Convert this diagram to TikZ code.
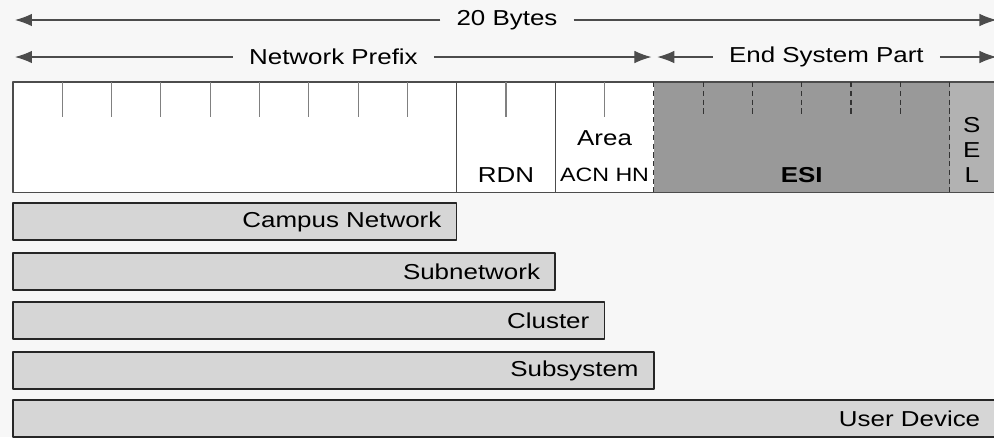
\documentclass[tikz,border=0pt]{standalone}
\usepackage{fontspec}
\setmainfont[FakeStretch=1.2]{Liberation Sans}
\usetikzlibrary{arrows.meta}
\definecolor{paper}{gray}{0.97}
\definecolor{esigray}{gray}{0.6}
\definecolor{selgray}{gray}{0.7}
\definecolor{bargray}{gray}{0.84}
\definecolor{rule}{gray}{0.3}
\tikzset{
	span/.style={inner xsep=9pt, inner ysep=1pt},
	field/.style={inner sep=1pt},
	level/.style={draw=black!85, line width=0.9pt, fill=bargray},
	dim/.style={draw=rule, line width=0.6pt}
}
\begin{document}
\begin{tikzpicture}[x=0.986cm, y=-0.02cm, >={Latex[length=3.4mm,width=2.5mm]}, font=\fontsize{12.3}{14}\selectfont, line join=round]
	% one x unit = one byte, y counts down in pixels of the page
	\def\top{82} \def\bot{192} \def\tick{117}
	\useasboundingbox[fill=paper] (-0.264,0) rectangle (19.9,437);
	\clip (-0.264,0) rectangle (19.9,437);
	% arrows over the address
	\node[span] (bytes) at (10.02,20) {20 Bytes};
	\coordinate (bl) at (0.04,20); \coordinate (br) at (19.95,20);
	\draw[dim,->] (bytes.west)--(bl);
	\draw[dim,->] (bytes.east)--(br);
	\node[span] (prefix) at (6.5,57) {Network Prefix};
	\coordinate (pl) at (0.04,57); \coordinate (pr) at (12.95,57);
	\draw[dim,->] (prefix.west)--(pl);
	\draw[dim,->] (prefix.east)--(pr);
	\node[span] (esp) at (16.5,57) {End System Part};
	\coordinate (el) at (13.07,57); \coordinate (er) at (19.95,57);
	\draw[dim,->] (esp.west)--(el);
	\draw[dim,->] (esp.east)--(er);
	% the 20 byte field
	\fill[white] (0,\top) rectangle (13,\bot);
	\fill[esigray] (13,\top) rectangle (19,\bot);
	\fill[selgray] (19,\top) rectangle (20.5,\bot);
	\draw[rule, line width=0.6pt] (20.5,\top)--(0,\top)--(0,\bot)--(20.5,\bot);
	\draw[rule, line width=0.6pt] (9,\top)--(9,\bot) (11,\top)--(11,\bot);
	\foreach \i in {1,...,8,10,12}
		\draw[gray, line width=0.6pt] (\i,\top)--(\i,\tick);
	\draw[black!80, densely dashed, line width=0.7pt] (13,\top)--(13,\bot) (19,\top)--(19,\bot);
	\foreach \i in {14,...,18}
		\draw[black!80, densely dashed, line width=0.7pt] (\i,\top)--(\i,\tick);
	\node[field] (rdn) at (10,175) {RDN};
	\node[field] (area) at (12,138) {Area};
	\node[field, font=\fontsize{11}{14}\selectfont] (acnhn) at (12,175) {ACN HN};
	\node[field, font=\fontsize{12.3}{14}\selectfont\bfseries] (esi) at (16,175) {ESI};
	\node[field, align=center] (sel) at (19.45,150) {S\\E\\L};
	% levels of the hierarchy
	\foreach \w/\t/\y [count=\i] in {9/Campus Network/203, 11/Subnetwork/253, 12/Cluster/302, 13/Subsystem/352, 19.93/User Device/400}{
		\draw[level] (0,\y) rectangle (\w,\y+37);
		\node[anchor=east, inner xsep=8.5pt] (lvl\i) at (\w,\y+18.5) {\t};
	}
\end{tikzpicture}
\end{document}
